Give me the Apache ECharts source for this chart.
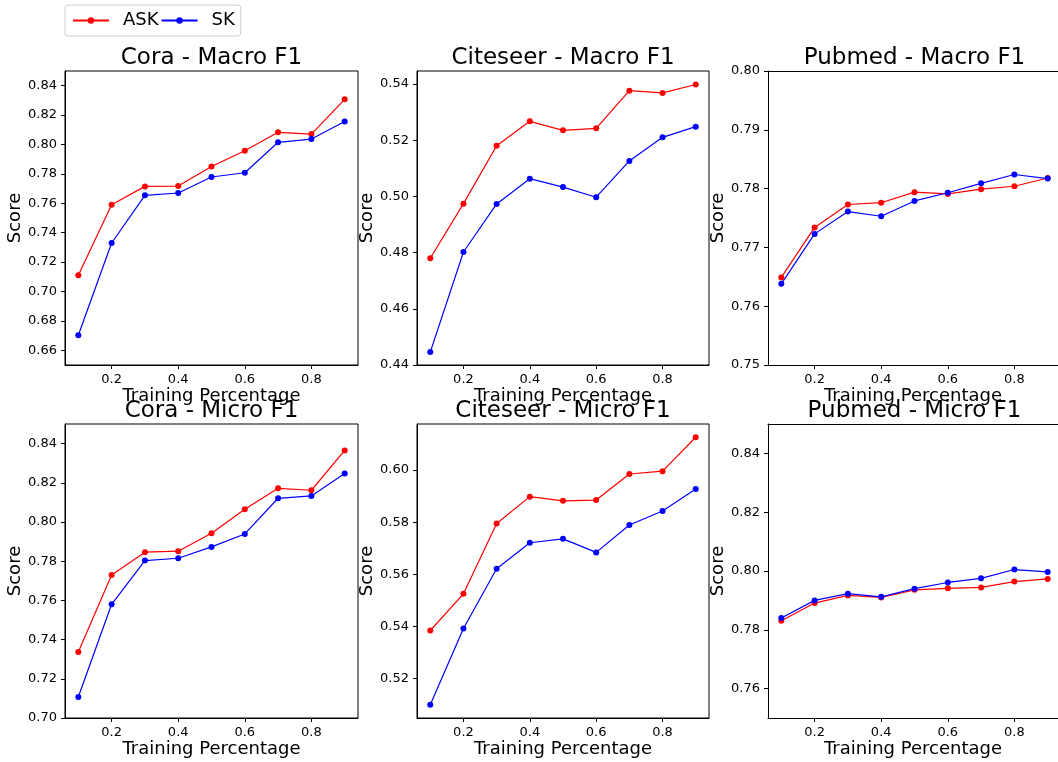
<!DOCTYPE html>
<html>
<head>
<meta charset="utf-8">
<script src="https://cdn.jsdelivr.net/npm/echarts@6/dist/echarts.min.js"></script>
<style>
  html, body { margin: 0; padding: 0; background: #fff; }
  #chart { width: 1058px; height: 762px; }
</style>
</head>
<body>
<div id="chart"></div>
<script>
// training percentages
const xValues = [0.1, 0.2, 0.3, 0.4, 0.5, 0.6, 0.7, 0.8, 0.9]
const xTicks = [0.2, 0.4, 0.6, 0.8]

// scores
const coraMacroASK = [0.711, 0.759, 0.7715, 0.7717, 0.785, 0.7958, 0.8083, 0.8071, 0.8307]
const coraMacroSK = [0.6702, 0.733, 0.7654, 0.767, 0.7779, 0.7808, 0.8015, 0.8037, 0.8157]
const citeseerMacroASK = [0.478, 0.4974, 0.518, 0.5267, 0.5235, 0.5242, 0.5376, 0.5368, 0.5398]
const citeseerMacroSK = [0.4446, 0.4802, 0.4973, 0.5063, 0.5033, 0.4997, 0.5126, 0.521, 0.5248]
const pubmedMacroASK = [0.7649, 0.7734, 0.7773, 0.7776, 0.7794, 0.7791, 0.7799, 0.7804, 0.7818]
const pubmedMacroSK = [0.7638, 0.7723, 0.7761, 0.7753, 0.7779, 0.7793, 0.7809, 0.7824, 0.7817]
const coraMicroASK = [0.7337, 0.773, 0.7846, 0.7851, 0.7943, 0.8065, 0.8172, 0.8162, 0.8365]
const coraMicroSK = [0.7107, 0.758, 0.7803, 0.7815, 0.7873, 0.7939, 0.8121, 0.8133, 0.8247]
const citeseerMicroASK = [0.5384, 0.5525, 0.5795, 0.5898, 0.5882, 0.5885, 0.5985, 0.5996, 0.6126]
const citeseerMicroSK = [0.5099, 0.5392, 0.5621, 0.5721, 0.5736, 0.5684, 0.5789, 0.5843, 0.5927]
const pubmedMicroASK = [0.7831, 0.7891, 0.7917, 0.791, 0.7936, 0.7941, 0.7944, 0.7964, 0.7973]
const pubmedMicroSK = [0.784, 0.790, 0.7923, 0.7912, 0.794, 0.7961, 0.7975, 0.8005, 0.7997]

// y tick labels per panel
const coraMacroTicks = [0.66, 0.68, 0.70, 0.72, 0.74, 0.76, 0.78, 0.80, 0.82, 0.84]
const citeseerMacroTicks = [0.44, 0.46, 0.48, 0.50, 0.52, 0.54]
const pubmedMacroTicks = [0.75, 0.76, 0.77, 0.78, 0.79, 0.80]
const coraMicroTicks = [0.70, 0.72, 0.74, 0.76, 0.78, 0.80, 0.82, 0.84]
const citeseerMicroTicks = [0.52, 0.54, 0.56, 0.58, 0.60]
const pubmedMicroTicks = [0.76, 0.78, 0.80, 0.82, 0.84]

const FONT = 'DejaVu Sans'

// right column runs off the edge of the picture, so its box is cut at 1058px
const panels = [
  { title: 'Cora - Macro F1', ask: coraMacroASK, sk: coraMacroSK, ticks: coraMacroTicks, yMin: 0.65, yMax: 0.85, left: 65, top: 71, width: 293, xMax: 0.94, cut: false },
  { title: 'Citeseer - Macro F1', ask: citeseerMacroASK, sk: citeseerMacroSK, ticks: citeseerMacroTicks, yMin: 0.44, yMax: 0.5446, left: 417, top: 71, width: 292, xMax: 0.94, cut: false },
  { title: 'Pubmed - Macro F1', ask: pubmedMacroASK, sk: pubmedMacroSK, ticks: pubmedMacroTicks, yMin: 0.75, yMax: 0.80, left: 768, top: 71, width: 290, xMax: 0.931, cut: true },
  { title: 'Cora - Micro F1', ask: coraMicroASK, sk: coraMicroSK, ticks: coraMicroTicks, yMin: 0.70, yMax: 0.85, left: 65, top: 424, width: 293, xMax: 0.94, cut: false },
  { title: 'Citeseer - Micro F1', ask: citeseerMicroASK, sk: citeseerMicroSK, ticks: citeseerMicroTicks, yMin: 0.5048, yMax: 0.6177, left: 417, top: 424, width: 292, xMax: 0.94, cut: false },
  { title: 'Pubmed - Micro F1', ask: pubmedMicroASK, sk: pubmedMicroSK, ticks: pubmedMicroTicks, yMin: 0.75, yMax: 0.85, left: 768, top: 424, width: 290, xMax: 0.931, cut: true }
]
const PLOT_H = 294

const chart = echarts.init(document.getElementById('chart'), null, { renderer: 'canvas' })

const grid = []
const xAxis = []
const yAxis = []
const title = []
const series = []

panels.forEach((p, i) => {
  grid.push({
    left: p.left, top: p.top, width: p.width, height: PLOT_H,
    show: !p.cut, borderColor: '#000', borderWidth: 1, backgroundColor: 'transparent'
  })
  title.push({
    text: p.title,
    left: p.left + (p.cut ? 293 : p.width) / 2,
    top: p.top - 13,
    textAlign: 'center',
    textVerticalAlign: 'middle',
    padding: 0,
    textStyle: { fontFamily: FONT, fontSize: 23, fontWeight: 'normal', color: '#000' }
  })
  xAxis.push({
    gridIndex: i, type: 'value', min: 0.06, max: p.xMax,
    name: 'Training Percentage', nameLocation: 'middle', nameGap: 20,
    nameTextStyle: { fontFamily: FONT, fontSize: 18, color: '#000' },
    axisLine: { show: true, lineStyle: { color: '#000', width: 1 } },
    axisTick: { show: true, length: 4, customValues: xTicks, lineStyle: { color: '#000' } },
    axisLabel: {
      customValues: xTicks, margin: 8, fontFamily: FONT, fontSize: 13, color: '#000',
      formatter: v => v.toFixed(1)
    },
    splitLine: { show: false }
  })
  yAxis.push({
    gridIndex: i, type: 'value', min: p.yMin, max: p.yMax,
    name: 'Score', nameLocation: 'middle', nameGap: 40, nameRotate: 90,
    nameTextStyle: { fontFamily: FONT, fontSize: 18, color: '#000' },
    axisLine: { show: true, lineStyle: { color: '#000', width: 1 } },
    axisTick: { show: true, length: 4, customValues: p.ticks, lineStyle: { color: '#000' } },
    axisLabel: {
      customValues: p.ticks, margin: 8, fontFamily: FONT, fontSize: 13, color: '#000',
      formatter: v => v.toFixed(2)
    },
    splitLine: { show: false }
  })
  series.push({
    name: 'ASK', type: 'line', xAxisIndex: i, yAxisIndex: i,
    data: xValues.map((x, k) => [x, p.ask[k]]),
    symbol: 'circle', symbolSize: 6, showSymbol: true,
    lineStyle: { color: '#ff0000', width: 1.2 },
    itemStyle: { color: '#ff0000' }
  })
  series.push({
    name: 'SK', type: 'line', xAxisIndex: i, yAxisIndex: i,
    data: xValues.map((x, k) => [x, p.sk[k]]),
    symbol: 'circle', symbolSize: 6, showSymbol: true,
    lineStyle: { color: '#0000ff', width: 1.2 },
    itemStyle: { color: '#0000ff' }
  })
})

// top edge of the cut panels: a bare axis line on top
panels.forEach((p, i) => {
  if (!p.cut) return
  xAxis.push({
    gridIndex: i, type: 'value', position: 'top', min: 0.06, max: p.xMax,
    axisLine: { show: true, onZero: false, lineStyle: { color: '#000', width: 1 } },
    axisTick: { show: false }, axisLabel: { show: false }, splitLine: { show: false }
  })
})

chart.setOption({
  animation: false,
  backgroundColor: '#fff',
  textStyle: { fontFamily: FONT },
  title: title,
  legend: {
    data: ['ASK', 'SK'],
    left: 65, top: 5,
    orient: 'horizontal',
    itemWidth: 36, itemHeight: 8, itemGap: 2,
    padding: [6, 6, 6, 7],
    borderColor: '#cccccc', borderWidth: 1, borderRadius: 3,
    backgroundColor: '#fff',
    textStyle: { fontFamily: FONT, fontSize: 18, lineHeight: 19, color: '#000', padding: [0, 0, 0, 9] }
  },
  grid: grid,
  xAxis: xAxis,
  yAxis: yAxis,
  series: series
})
</script>
</body>
</html>
